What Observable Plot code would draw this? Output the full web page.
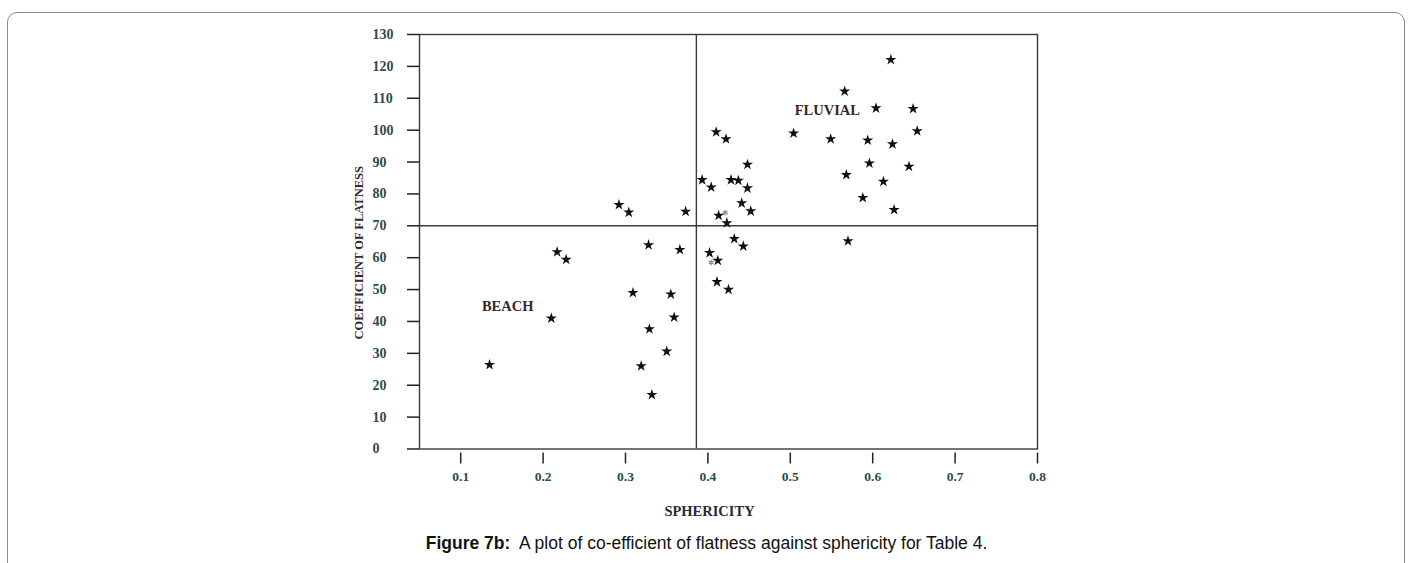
<!DOCTYPE html>
<html>
<head>
<meta charset="utf-8">
<script src="https://cdn.jsdelivr.net/npm/d3@7"></script>
<script src="https://cdn.jsdelivr.net/npm/@observablehq/plot@0.6"></script>
<style>
  html, body { margin: 0; padding: 0; background: #fff; }
  #wrap { position: relative; width: 1413px; height: 563px; overflow: hidden; }
  #box { position: absolute; left: 7px; top: 12px; width: 1396px; height: 640px;
         border: 1.5px solid #8a8a8a; border-radius: 10px; }
  #chart { position: absolute; left: 0; top: 0; }
  #caption { position: absolute; left: 0; top: 528px; width: 1413px; text-align: center;
             font-family: "Liberation Sans", Arial, sans-serif; font-size: 17.5px; line-height: 30px; color: #111; }
</style>
</head>
<body>
<div id="wrap">
  <div id="box"></div>
  <div id="chart"></div>
  <div id="caption"><b>Figure 7b:</b>&nbsp; A plot of co-efficient of flatness against sphericity for Table 4.</div>
</div>
<script>
// Tick values
const xTicks = [0.1, 0.2, 0.3, 0.4, 0.5, 0.6, 0.7, 0.8];
const yTicks = [0, 10, 20, 30, 40, 50, 60, 70, 80, 90, 100, 110, 120, 130];

// Star points: sphericity vs coefficient of flatness
const sphericity = [
  0.135, 0.210, 0.217, 0.228, 0.292, 0.304, 0.309, 0.319, 0.328, 0.329,
  0.332, 0.350, 0.355, 0.359, 0.366, 0.373, 0.393, 0.402, 0.404, 0.410,
  0.411, 0.413, 0.412, 0.422, 0.423, 0.425, 0.428, 0.432, 0.437, 0.441,
  0.443, 0.448, 0.448, 0.452, 0.504, 0.549, 0.566, 0.568, 0.570, 0.588,
  0.594, 0.596, 0.604, 0.613, 0.622, 0.624, 0.626, 0.644, 0.649, 0.654
];
const flatness = [
  26.4, 41.0, 61.8, 59.4, 76.6, 74.2, 49.0, 26.0, 64.0, 37.6,
  17.0, 30.6, 48.5, 41.3, 62.5, 74.5, 84.4, 61.5, 82.1, 99.4,
  52.4, 73.2, 59.1, 97.2, 70.9, 50.0, 84.4, 65.9, 84.2, 77.1,
  63.6, 89.2, 81.8, 74.6, 99.0, 97.2, 112.2, 86.0, 65.2, 78.8,
  96.8, 89.6, 106.9, 83.9, 122.1, 95.6, 75.0, 88.6, 106.7, 99.7
];

// Faint asterisk marks in the scan
const astSphericity = [0.421, 0.404];
const astFlatness = [74.1, 58.5];

// Dividing lines
const divSphericity = [0.386];
const divFlatness = [70];

// Region labels
const regionNames = ["BEACH", "FLUVIAL"];
const regionSphericity = [0.157, 0.545];
const regionFlatness = [44.8, 106.2];

const points = sphericity.map((s, i) => ({s, f: flatness[i]}));
const asts = astSphericity.map((s, i) => ({s, f: astFlatness[i]}));
const regions = regionNames.map((n, i) => ({n, s: regionSphericity[i], f: regionFlatness[i]}));

const tickColor = "#2c4b48";
const serif = "'Liberation Serif', 'DejaVu Serif', serif";

const chart = Plot.plot({
  width: 1413,
  height: 538,
  marginLeft: 419,
  marginRight: 376,
  marginTop: 34,
  marginBottom: 89.5,
  x: {domain: [0.05, 0.80]},
  y: {domain: [0, 130]},
  style: {fontFamily: serif, background: "transparent", overflow: "visible"},
  marks: [
    Plot.frame({stroke: "#3a3a3a", strokeWidth: 1.4}),
    Plot.ruleX(divSphericity, {stroke: "#3a3a3a", strokeWidth: 1.4}),
    Plot.ruleY(divFlatness, {stroke: "#3a3a3a", strokeWidth: 1.4}),
    // y ticks
    Plot.axisY({ticks: yTicks, tickSize: 12, fill: "none", stroke: "#222", strokeWidth: 1.5, label: null}),
    // y tick labels (left-aligned)
    Plot.axisY({ticks: yTicks, tickSize: 0, tickPadding: 47, textAnchor: "start", fill: tickColor,
                fontSize: 14, fontWeight: "bold", label: null}),
    // x ticks (detached slightly below frame)
    Plot.axisX({ticks: xTicks, tickSize: 11, dy: 4, fill: "none", stroke: "#222", strokeWidth: 1.5, label: null}),
    // x tick labels
    Plot.axisX({ticks: xTicks, tickSize: 0, tickPadding: 22, fill: tickColor, fontSize: 13.5,
                fontWeight: "bold", tickFormat: d => d.toFixed(1), label: null}),
    // axis titles
    Plot.text(["SPHERICITY"], {frameAnchor: "bottom", dx: -19, dy: 62, fontSize: 14.5, fontWeight: "bold",
                fill: "#2a2a38", lineAnchor: "middle"}),
    Plot.text(["COEFFICIENT OF FLATNESS"], {frameAnchor: "left", textAnchor: "middle", rotate: -90, dx: -61, dy: 11,
                fontSize: 12.5, fontWeight: "bold", fill: "#2a2a38", lineAnchor: "middle"}),
    // region labels
    Plot.text(regions, {x: "s", y: "f", text: "n", fontSize: 14.5, fontWeight: "bold", fill: "#3a2626",
                lineAnchor: "middle"}),
    // faint asterisks
    Plot.dot(asts, {x: "s", y: "f", symbol: "asterisk", r: 2.6, stroke: "#7f9a94", strokeWidth: 1.3}),
    // stars
    Plot.dot(points, {x: "s", y: "f", symbol: "star", r: 3.5, fill: "#111", stroke: "none"})
  ]
});
document.getElementById("chart").appendChild(chart);
</script>
</body>
</html>
